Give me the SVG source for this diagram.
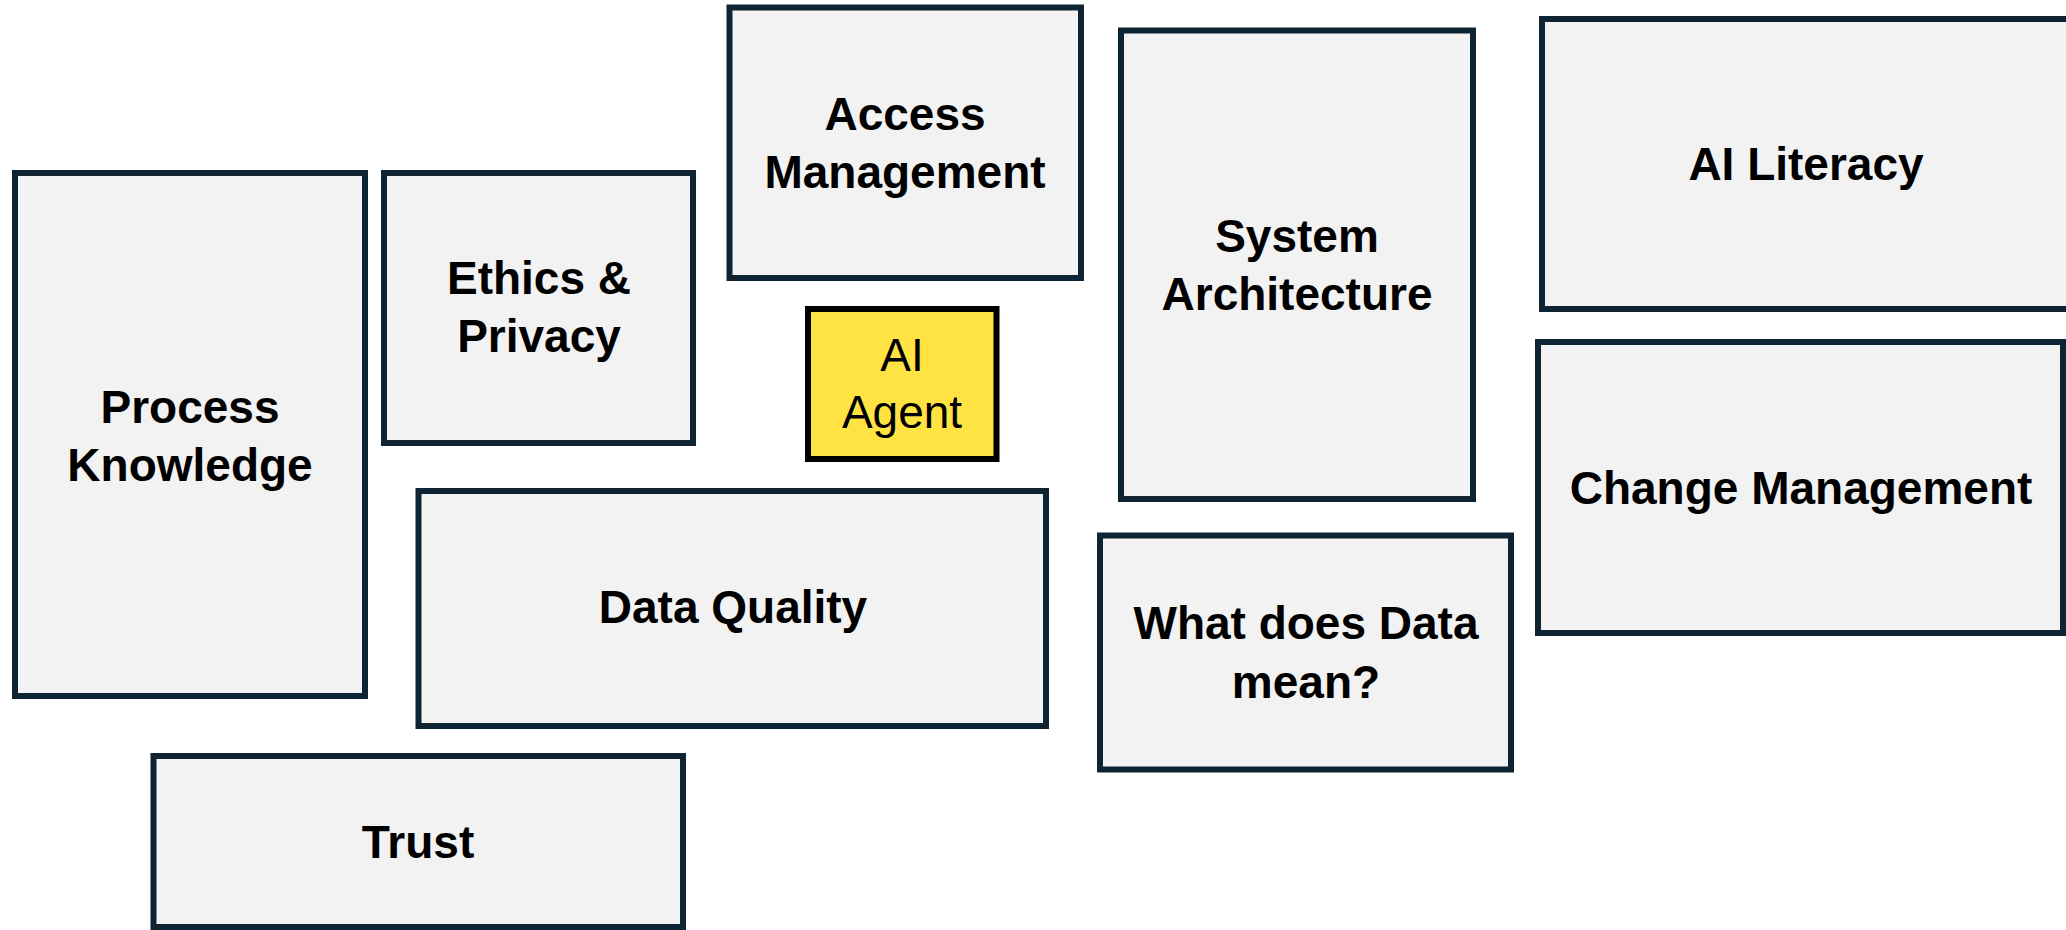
<svg xmlns="http://www.w3.org/2000/svg" width="2066" height="930" viewBox="0 0 2066 930">
<style>
.box{fill:#F2F2F2;stroke:#0E2433;stroke-width:6}
.agent{fill:#FFE343;stroke:#000000;stroke-width:6}
.lbl{font-family:"Liberation Sans",Arial,sans-serif;font-weight:bold;font-size:46px;fill:#000;text-anchor:middle}
.lblr{font-family:"Liberation Sans",Arial,sans-serif;font-weight:normal;font-size:46px;fill:#000;text-anchor:middle}
</style>
<rect width="2066" height="930" fill="#FFFFFF"/>
<g id="connectors"></g>
<g id="process-knowledge">
<rect class="box" x="15" y="173" width="350" height="523"/>
<text class="lbl" x="190" y="423">Process</text>
<text class="lbl" x="190" y="481">Knowledge</text>
</g>
<g id="ethics-privacy">
<rect class="box" x="384" y="173" width="309" height="270"/>
<text class="lbl" x="539" y="294">Ethics &amp;</text>
<text class="lbl" x="539" y="352">Privacy</text>
</g>
<g id="access-management">
<rect class="box" x="729.5" y="7.5" width="351.5" height="270.5"/>
<text class="lbl" x="905" y="130">Access</text>
<text class="lbl" x="905" y="188">Management</text>
</g>
<g id="ai-agent">
<rect class="agent" x="808" y="309" width="188.5" height="150"/>
<text class="lblr" x="902" y="371">AI</text>
<text class="lblr" x="902" y="428">Agent</text>
</g>
<g id="system-architecture">
<rect class="box" x="1121" y="30.5" width="352" height="468.5"/>
<text class="lbl" x="1297" y="252">System</text>
<text class="lbl" x="1297" y="310">Architecture</text>
</g>
<g id="ai-literacy">
<rect class="box" x="1542" y="19" width="530" height="290"/>
<text class="lbl" x="1806" y="180">AI Literacy</text>
</g>
<g id="change-management">
<rect class="box" x="1538" y="342" width="525" height="291"/>
<text class="lbl" x="1801" y="504">Change Management</text>
</g>
<g id="data-quality">
<rect class="box" x="418.5" y="491" width="627.5" height="235"/>
<text class="lbl" x="733" y="623">Data Quality</text>
</g>
<g id="what-does-data-mean">
<rect class="box" x="1100" y="535.5" width="411" height="234"/>
<text class="lbl" x="1306" y="639">What does Data</text>
<text class="lbl" x="1306" y="698">mean?</text>
</g>
<g id="trust">
<rect class="box" x="153.5" y="756" width="529.5" height="171"/>
<text class="lbl" x="418" y="858">Trust</text>
</g>
</svg>
